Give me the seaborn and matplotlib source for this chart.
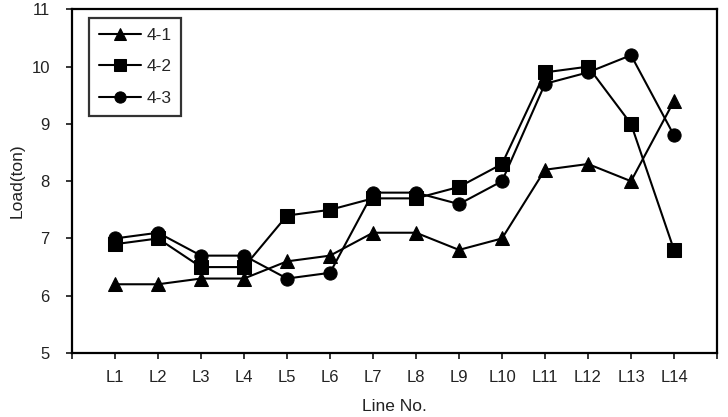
import matplotlib
matplotlib.use("Agg")
import matplotlib.pyplot as plt
import seaborn as sns
import pandas as pd

categories = ["L1", "L2", "L3", "L4", "L5", "L6", "L7", "L8", "L9", "L10", "L11", "L12", "L13", "L14"]
s41 = [6.2, 6.2, 6.3, 6.3, 6.6, 6.7, 7.1, 7.1, 6.8, 7.0, 8.2, 8.3, 8.0, 9.4]
s42 = [6.9, 7.0, 6.5, 6.5, 7.4, 7.5, 7.7, 7.7, 7.9, 8.3, 9.9, 10.0, 9.0, 6.8]
s43 = [7.0, 7.1, 6.7, 6.7, 6.3, 6.4, 7.8, 7.8, 7.6, 8.0, 9.7, 9.9, 10.2, 8.8]
series_names = ["4-1", "4-2", "4-3"]

rows = []
for name, vals in zip(series_names, [s41, s42, s43]):
    for i, v in enumerate(vals):
        rows.append({"pos": i + 1, "Load": v, "series": name})
df = pd.DataFrame(rows)

sns.set_style("ticks")
plt.rcParams["font.family"] = ["Liberation Sans", "DejaVu Sans"]

fig = plt.figure(figsize=(7.28, 4.17), dpi=100)
ax = fig.add_axes([0.0989, 0.1535, 0.886, 0.824])

sns.lineplot(data=df, x="pos", y="Load", hue="series", style="series",
             markers={"4-1": "^", "4-2": "s", "4-3": "o"}, dashes=False,
             palette=["black", "black", "black"], markersize=9.5, linewidth=1.5,
             markeredgecolor="black", ax=ax)

ax.set_xlim(0, 15)
ax.set_ylim(5, 11)
ax.set_xticks(range(0, 16))
ax.set_xticklabels([""] + categories + [""], fontsize=12, color="#222222")
ax.set_yticks(range(5, 12))
ax.set_yticklabels([str(v) for v in range(5, 12)], fontsize=12, color="#222222")
ax.tick_params(axis="y", direction="out", length=4, width=1.3, pad=12)
ax.tick_params(axis="x", direction="out", length=4, width=1.3, pad=8)
ax.set_xlabel("Line No.", fontsize=12.5, labelpad=10, color="#222222")
ax.set_ylabel("Load(ton)", fontsize=12.5, labelpad=5, color="#222222")
for sp in ax.spines.values():
    sp.set_visible(True)
    sp.set_linewidth(1.6)
    sp.set_color("black")

leg = ax.legend(loc="upper left", bbox_to_anchor=(0.027, 0.975), borderaxespad=0,
                frameon=True, fancybox=False, edgecolor="black", fontsize=12.5,
                handlelength=2.4, labelspacing=0.95, borderpad=0.55,
                handletextpad=0.35, markerscale=0.85)
leg.get_frame().set_linewidth(1.6)

fig.savefig("out.png", dpi=100)
